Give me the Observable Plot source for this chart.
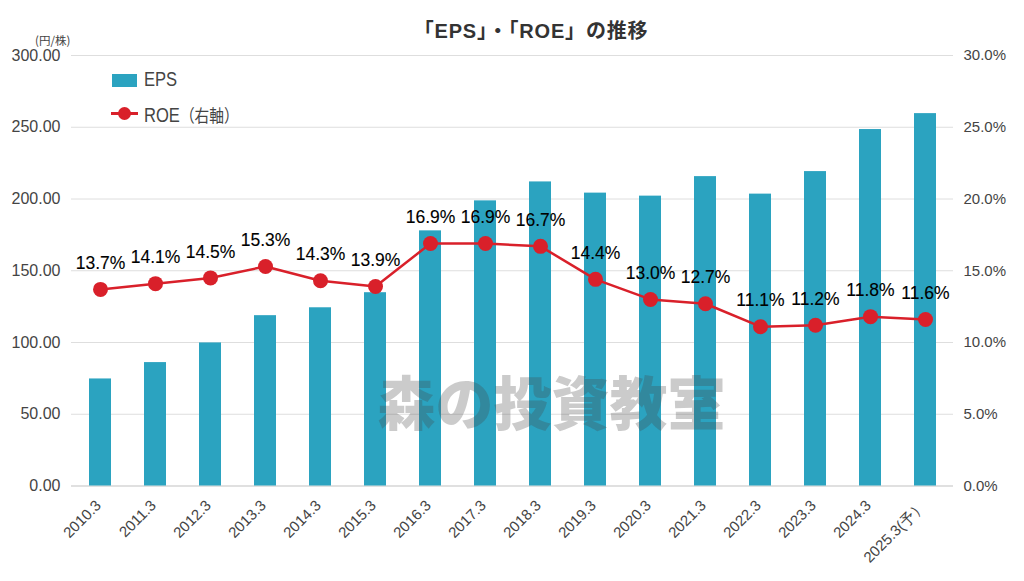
<!DOCTYPE html>
<html>
<head>
<meta charset="utf-8">
<script src="https://cdn.jsdelivr.net/npm/d3@7"></script>
<script src="https://cdn.jsdelivr.net/npm/@observablehq/plot@0.6"></script>
<style>
  body { margin: 0; background: #fff; }
  #wrap { position: relative; width: 1024px; height: 581px; overflow: hidden; font-family: "Liberation Sans", Arial, sans-serif; }
  #title { position: absolute; left: 0; width: 1062px; top: 15px; text-align: center; font-family: "Liberation Sans", "Noto Sans CJK JP", sans-serif; font-weight: 700; font-size: 20px; letter-spacing: 0.8px; color: #333; }
  #unit { position: absolute; left: 35px; top: 32px; font-family: "Noto Sans CJK JP", sans-serif; font-size: 11.5px; color: #444; }
  .leg { position: absolute; font-size: 18px; color: #444; font-family: "Liberation Sans Narrow", "Liberation Sans", "Noto Sans CJK JP", sans-serif; transform-origin: left center; transform: scale(0.92, 1.1); }
</style>
</head>
<body>
<div id="wrap">
  <div id="title">「EPS」・「ROE」の推移</div>
  <div id="unit">(円/株)</div>
  <div style="position:absolute;left:112px;top:74px;width:25px;height:13px;background:#2ba3c0"></div>
  <div class="leg" style="left:144px;top:69px;">EPS</div>
  <div style="position:absolute;left:111px;top:111.5px;width:27px;height:3px;background:#d9202a"></div>
  <div style="position:absolute;left:118px;top:106.5px;width:13px;height:13px;border-radius:50%;background:#d9202a"></div>
  <div class="leg" style="left:144px;top:102px;">ROE<span style="font-family:'Noto Sans CJK JP';font-size:16px">（右軸）</span></div>
</div>
<script>
const categories = ["2010.3","2011.3","2012.3","2013.3","2014.3","2015.3","2016.3","2017.3","2018.3","2019.3","2020.3","2021.3","2022.3","2023.3","2024.3","2025.3(予）"];
const eps = [74.6, 86.0, 99.7, 118.7, 124.2, 134.7, 177.8, 198.7, 211.9, 204.1, 202.0, 215.6, 203.4, 219.1, 248.4, 259.5];
const roe = [13.7, 14.1, 14.5, 15.3, 14.3, 13.9, 16.9, 16.9, 16.7, 14.4, 13.0, 12.7, 11.1, 11.2, 11.8, 11.6];
const leftTicks = [0, 50, 100, 150, 200, 250, 300];
const rightTicks = [0, 5, 10, 15, 20, 25, 30];
const watermark = "森の投資教室";

const data = categories.map((c, i) => ({cat: c, eps: eps[i], roe: roe[i]}));
const ratio = 300 / 30; // right axis (%) mapped onto left axis scale

const chart = Plot.plot({
  width: 1024,
  height: 581,
  marginTop: 55,
  marginBottom: 95.5,
  marginLeft: 71,
  marginRight: 71,
  style: {fontFamily: "'Liberation Sans', Arial, sans-serif", background: "#fff"},
  x: {type: "band", domain: categories, paddingInner: 0.6, paddingOuter: 0.3, align: 0.5},
  y: {domain: [0, 300]},
  marks: [
    Plot.ruleY(leftTicks.slice(1), {stroke: "#dedede", strokeWidth: 1}),
    Plot.ruleY([0], {stroke: "#d6d6d6", strokeWidth: 1.5}),
    Plot.barY(data, {x: "cat", y: "eps", fill: "#2ba3c0"}),
    Plot.text([watermark], {frameAnchor: "middle", dx: 39, dy: 136, text: d => d, fontSize: 58, fontWeight: 900, fontFamily: "'Noto Sans CJK JP', sans-serif", fill: "#444", fillOpacity: 0.28}),
    Plot.line(data, {x: "cat", y: d => d.roe * ratio, stroke: "#d9202a", strokeWidth: 2.5}),
    Plot.dot(data, {x: "cat", y: d => d.roe * ratio, r: 7.5, fill: "#d9202a"}),
    Plot.text(data, {x: "cat", y: d => d.roe * ratio, text: d => d.roe.toFixed(1) + "%", dy: -26, fontSize: 17.5, fill: "#000", stroke: "#000", strokeWidth: 0.12, lineAnchor: "middle", fontFamily: "'Liberation Sans Narrow', 'Liberation Sans', sans-serif"}),
    Plot.axisY(leftTicks, {anchor: "left", tickSize: 0, tickPadding: 11, tickFormat: d => d.toFixed(2), fontSize: 16, fill: "#444", label: null}),
    Plot.axisY(leftTicks, {anchor: "right", tickSize: 0, tickPadding: 10, tickFormat: d => (d / ratio).toFixed(1) + "%", fontSize: 15, fill: "#444", label: null}),
    Plot.axisX({tickSize: 0, tickPadding: 17, tickRotate: -45, fontSize: 15, fill: "#444", label: null, dx: -2})
  ]
});
document.getElementById("wrap").prepend(chart);
chart.style.position = "absolute";
chart.style.left = "0";
chart.style.top = "0";
</script>
</body>
</html>
